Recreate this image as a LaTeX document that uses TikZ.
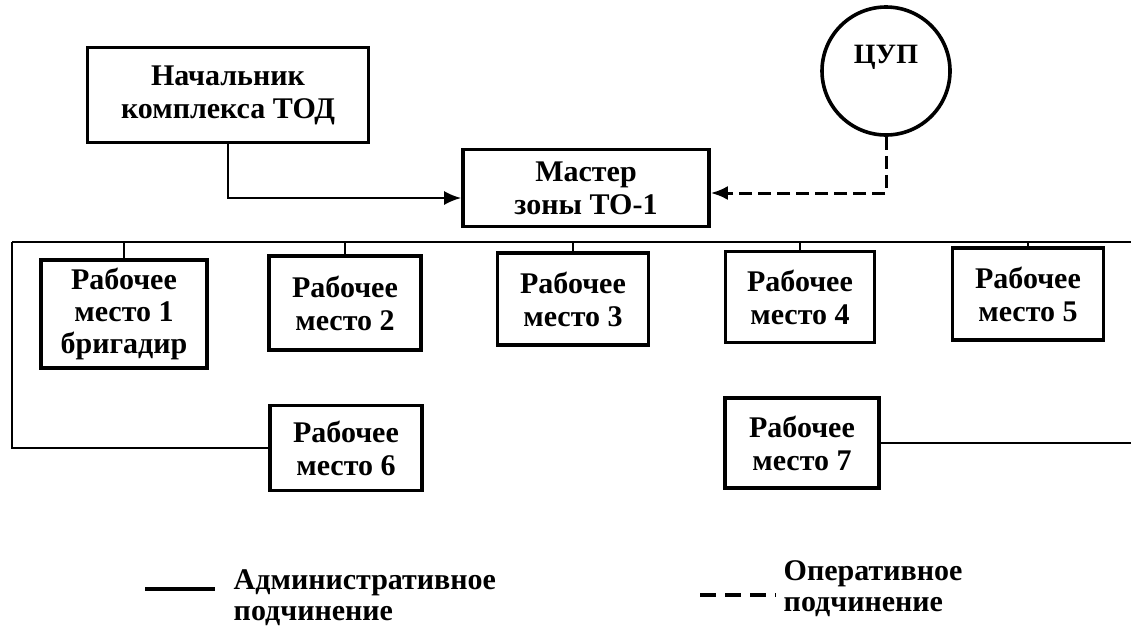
\documentclass[tikz,border=0pt]{standalone}
\usepackage{fontspec}
\setmainfont{Liberation Serif}
\usetikzlibrary{arrows,arrows.meta}

\begin{document}
\begin{tikzpicture}[x=1pt,y=-1pt,thick]
\tikzset{
  box/.style={draw,line width=3.6pt,align=center,inner sep=0pt,
    font=\bfseries\fontsize{30}{33}\selectfont},
  link/.style={line width=2.4pt},
  oper/.style={line width=3pt,dash pattern=on 13pt off 6pt},
  tip/.style={-{Latex[length=17pt,width=14pt]}},
  legtext/.style={anchor=west,align=left,font=\bfseries\fontsize{30}{31}\selectfont}
}
\useasboundingbox (0,0) rectangle (1131,630);
% top level
\node[box,minimum width=281pt,minimum height=95pt] (nach) at (228,95) {Начальник\\комплекса ТОД};
\node[box,minimum width=246pt,minimum height=77pt] (master) at (586,188) {Мастер\\зоны ТО-1};
\node[draw,circle,line width=3.6pt,minimum size=128pt,inner sep=0pt,
  font=\bfseries\fontsize{28}{31}\selectfont] (cup) at (886,71) {\raisebox{34pt}{ЦУП}};
% work places
\node[box,minimum width=166pt,minimum height=108pt,
  font=\bfseries\fontsize{30}{32}\selectfont] (rm1) at (124,314) {Рабочее\\место 1\\бригадир};
\node[box,minimum width=152pt,minimum height=94pt] (rm2) at (345,303) {Рабочее\\место 2};
\node[box,minimum width=151pt,minimum height=92pt] (rm3) at (573,299) {Рабочее\\место 3};
\node[box,minimum width=149pt,minimum height=91pt] (rm4) at (800,297) {Рабочее\\место 4};
\node[box,minimum width=151pt,minimum height=92pt] (rm5) at (1028,294) {Рабочее\\место 5};
\node[box,minimum width=152pt,minimum height=85pt] (rm6) at (346,448) {Рабочее\\место 6};
\node[box,minimum width=154pt,minimum height=90pt] (rm7) at (802,443) {Рабочее\\место 7};
% connections
\coordinate (busL) at (12,242);
\coordinate (busR) at (1131,242);
\coordinate (edgeR) at (1131,443);
\draw[link,tip] (nach.south) |- ([yshift=-10pt]master.west);
\draw[oper,tip] (cup.south) |- ([yshift=-5pt]master.east);
\draw[link] (busL) -- (busR);
\foreach \n in {1,...,5}
   \draw[link] (rm\n.north) -- (rm\n.north |- busL);
\draw[link] (busL) |- (rm6.west);
\draw[link] (rm7.east) -- (edgeR);
% legend
\coordinate (la) at (145,589);
\coordinate (lb) at (215,589);
\draw[line width=3.6pt] (la) -- (lb);
\node[legtext] (adm) at (230,598) {Административное\\подчинение};
\coordinate (lc) at (700,595);
\coordinate (ld) at (776,595);
\draw[line width=3.6pt,dash pattern=on 16pt off 9pt] (lc) -- (ld);
\node[legtext] (oper) at (780,589) {Оперативное\\подчинение};
\end{tikzpicture}
\end{document}
